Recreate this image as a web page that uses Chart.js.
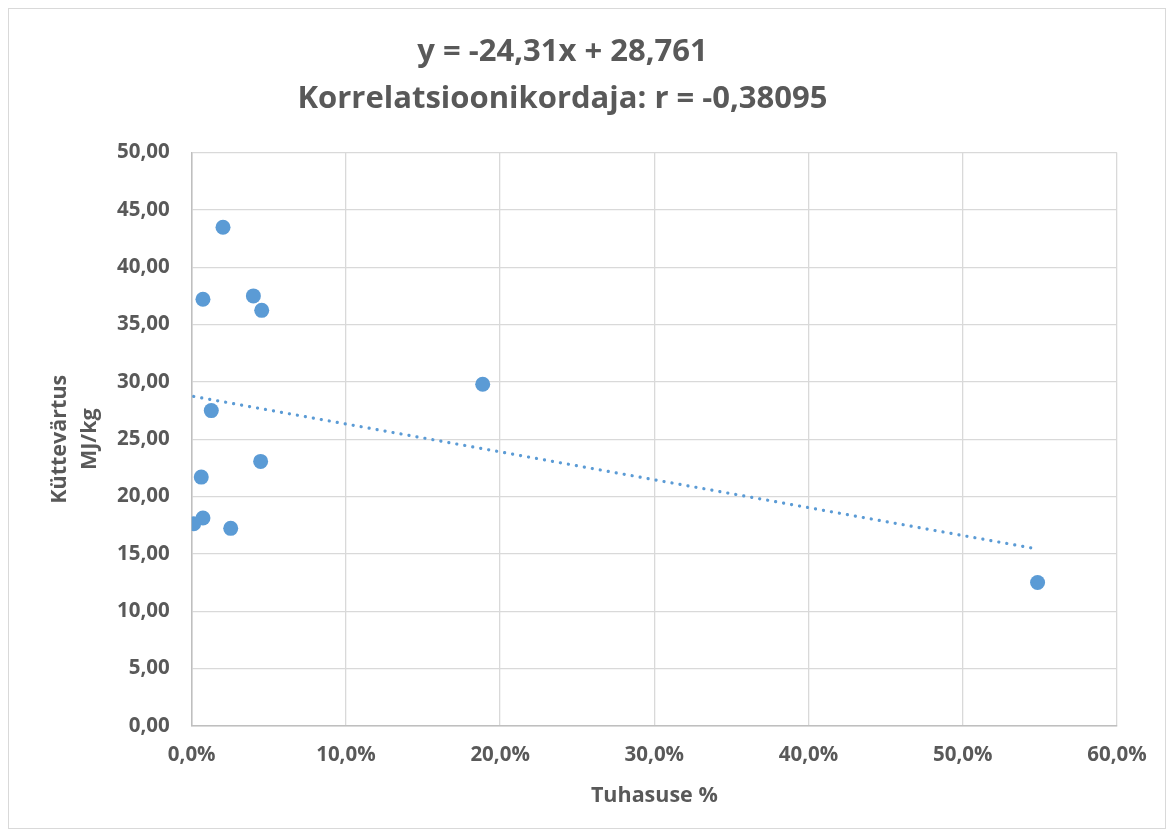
<!DOCTYPE html>
<html>
<head>
<meta charset="utf-8">
<script src="https://cdn.jsdelivr.net/npm/chart.js@4"></script>
<style>
  html, body { margin: 0; padding: 0; background: #fff; }
  #wrap { position: relative; width: 1175px; height: 836px; }
  #frame { position: absolute; left: 8px; top: 8px; width: 1156px; height: 819px; border: 1px solid #d9d9d9; pointer-events: none; }
</style>
</head>
<body>
<div id="wrap">
  <canvas id="chart" width="1175" height="836"></canvas>
  <div id="frame"></div>
</div>
<script>
// ash content (fraction) and heating value (MJ/kg)
const ashShare = [0.0013, 0.0073, 0.0062, 0.0073, 0.0127, 0.0203, 0.0253, 0.0400, 0.0454, 0.0447, 0.1887, 0.5485];
const heatValue = [17.64, 18.14, 21.70, 37.20, 27.50, 43.48, 17.23, 37.50, 36.24, 23.07, 29.79, 12.51];

// linear trendline as printed in the title
const trendSlope = -24.31;
const trendIntercept = 28.761;

const titleLines = ["y = -24,31x + 28,761", "Korrelatsioonikordaja: r = -0,38095"];
const yTitle = ["Küttevärtus", "MJ/kg"];
const xTitle = "Tuhasuse %";

const textColor = "#595959";
const font = "'Open Sans', 'DejaVu Sans', sans-serif";

const points = ashShare.map((x, i) => ({ x, y: heatValue[i] }));
const xMin = Math.min(...ashShare);
const xMax = Math.max(...ashShare);
const trend = [xMin, xMax].map(x => ({ x, y: trendSlope * x + trendIntercept }));

const ctx = document.getElementById("chart").getContext("2d");

new Chart(ctx, {
  type: "scatter",
  data: {
    datasets: [
      {
        label: "Küttevärtus",
        data: points,
        backgroundColor: "#5b9bd5",
        borderWidth: 0,
        pointRadius: 7.5,
        pointHoverRadius: 7.5
      },
      {
        label: "Trend",
        data: trend,
        showLine: true,
        borderColor: "#5b9bd5",
        borderWidth: 3.2,
        borderDash: [0.1, 8],
        borderCapStyle: "round",
        pointRadius: 0,
        fill: false
      }
    ]
  },
  options: {
    responsive: false,
    animation: false,
    layout: { padding: { left: 8, right: 58, top: 8, bottom: 8 } },
    plugins: {
      legend: { display: false },
      tooltip: { enabled: false },
      title: {
        display: true,
        text: titleLines,
        color: textColor,
        font: { family: font, size: 31, weight: "bold", lineHeight: 1.5 },
        padding: { top: 21, bottom: 30.5 }
      }
    },
    scales: {
      x: {
        type: "linear",
        min: 0,
        max: 0.6,
        ticks: {
          stepSize: 0.1,
          color: textColor,
          padding: 17,
          font: { family: font, size: 20.5, weight: "bold" },
          callback: v => (v * 100).toFixed(1).replace(".", ",") + "%"
        },
        grid: { color: "#d9d9d9", lineWidth: 1.3, drawTicks: false },
        border: { color: "#bfbfbf", width: 1.5 },
        title: {
          display: true,
          text: xTitle,
          color: textColor,
          font: { family: font, size: 21.5, weight: "bold", lineHeight: 1.2 },
          padding: { top: 4, bottom: 19.5 }
        },
        afterFit: s => { s.height = 102; }
      },
      y: {
        type: "linear",
        min: 0,
        max: 50,
        ticks: {
          stepSize: 5,
          color: textColor,
          padding: 22,
          font: { family: font, size: 20.5, weight: "bold" },
          callback: v => v.toFixed(2).replace(".", ",")
        },
        grid: { color: "#d9d9d9", lineWidth: 1.3, drawTicks: false },
        border: { color: "#bfbfbf", width: 1.5 },
        title: {
          display: true,
          text: yTitle,
          color: textColor,
          font: { family: font, size: 21.5, weight: "bold", lineHeight: 1.4 },
          padding: { top: 37, bottom: 0 }
        },
        afterFit: s => { s.width = 183.7; }
      }
    }
  }
});
</script>
</body>
</html>
